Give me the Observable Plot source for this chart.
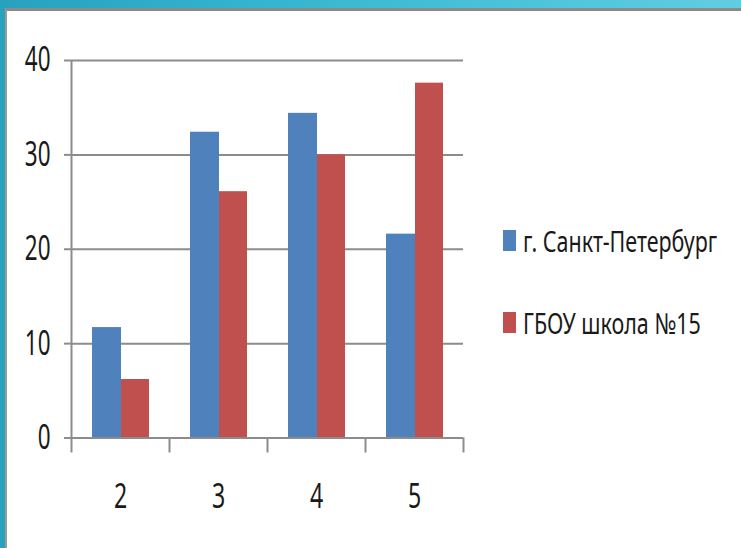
<!DOCTYPE html>
<html>
<head>
<meta charset="utf-8">
<script src="https://cdn.jsdelivr.net/npm/d3@7"></script>
<script src="https://cdn.jsdelivr.net/npm/@observablehq/plot@0.6"></script>
<style>
  html, body { margin: 0; padding: 0; width: 741px; height: 548px; overflow: hidden;
    background: linear-gradient(90deg, #27a1be 0%, #34b4cf 35%, #4cc3da 70%, #62cde0 100%); }
  #panel { position: absolute; left: 5px; top: 8px; width: 736px; height: 540px; background: #fff;
    border-top: 3px solid #8a8a8a; border-left: 2px solid #9a9a9a; }
  #chart { position: absolute; left: 0; top: 0; }
  .leg { position: absolute; display: flex; align-items: center; height: 22px;
    font-family: "Noto Sans", sans-serif; font-size: 29px; color: #1a1a1a; white-space: nowrap; }
  .sw { width: 13px; height: 21px; margin-right: 7px; flex: none; }
  .lt { display: inline-block; transform: scaleX(0.74); transform-origin: left center; }
</style>
</head>
<body>
<div id="panel"><div id="chart"></div></div>
<script>
const categories = ["2", "3", "4", "5"];
const spb = [11.7, 32.4, 34.4, 21.6];
const school = [6.2, 26.1, 30.0, 37.6];
const seriesNames = ["г. Санкт-Петербург", "ГБОУ школа №15"];
const colors = ["#4f81bd", "#c0504d"];
const yTicks = [0, 10, 20, 30, 40];

const W = 734, H = 537, ml = 64, mr = 278, mt = 49, mb = 110.5;
const step = (W - ml - mr) / categories.length;
const pxPerUnit = (H - mt - mb) / 40;
const tickBottom = -15 / pxPerUnit;
const gray = "#8c8c8c";

const data1 = categories.map((c, i) => ({cat: c, value: spb[i], series: seriesNames[0]}));
const data2 = categories.map((c, i) => ({cat: c, value: school[i], series: seriesNames[1]}));

const chart = Plot.plot({
  width: W, height: H,
  marginLeft: ml, marginRight: mr, marginTop: mt, marginBottom: mb,
  style: {fontFamily: "'Noto Sans', sans-serif", background: "transparent", overflow: "visible", color: "#1a1a1a"},
  x: {type: "band", domain: categories, padding: 0},
  y: {domain: [0, 40]},
  marks: [
    Plot.gridY(yTicks, {stroke: gray, strokeOpacity: 1, strokeWidth: 2}),
    Plot.axisY(yTicks, {tickSize: 7, tickPadding: 14, fontSize: 34, stroke: gray, strokeWidth: 2, label: null}),
    Plot.barY(data1, {x: "cat", y: "value", fill: colors[0], insetLeft: 21, insetRight: 48}),
    Plot.barY(data2, {x: "cat", y: "value", fill: colors[1], insetLeft: 50, insetRight: 20}),
    Plot.ruleY([0], {stroke: gray, strokeWidth: 2}),
    Plot.ruleX(categories, {x: d => d, y1: tickBottom, y2: 0, dx: -step / 2, stroke: gray, strokeWidth: 2}),
    Plot.ruleX(categories.slice(-1), {x: d => d, y1: tickBottom, y2: 0, dx: step / 2, stroke: gray, strokeWidth: 2}),
    Plot.ruleX(categories.slice(0, 1), {x: d => d, y1: 0, y2: 40, dx: -step / 2, stroke: gray, strokeWidth: 2}),
    Plot.axisX({tickSize: 0, tickPadding: 45, fontSize: 35, label: null})
  ]
});
document.getElementById("chart").appendChild(chart);

// condense glyphs (reference font is narrow)
chart.querySelectorAll("text").forEach(t => {
  const L = t.getComputedTextLength();
  if (L > 0) {
    t.setAttribute("textLength", L * 0.66);
    t.setAttribute("lengthAdjust", "spacingAndGlyphs");
  }
});

// legend
const panel = document.getElementById("panel");
const legTops = [218, 300];
seriesNames.forEach((name, i) => {
  const row = document.createElement("div");
  row.className = "leg";
  row.style.left = "496px";
  row.style.top = legTops[i] + "px";
  const sw = document.createElement("span");
  sw.className = "sw";
  sw.style.background = colors[i];
  const tx = document.createElement("span");
  tx.className = "lt";
  tx.textContent = name;
  row.appendChild(sw);
  row.appendChild(tx);
  panel.appendChild(row);
});
</script>
</body>
</html>
